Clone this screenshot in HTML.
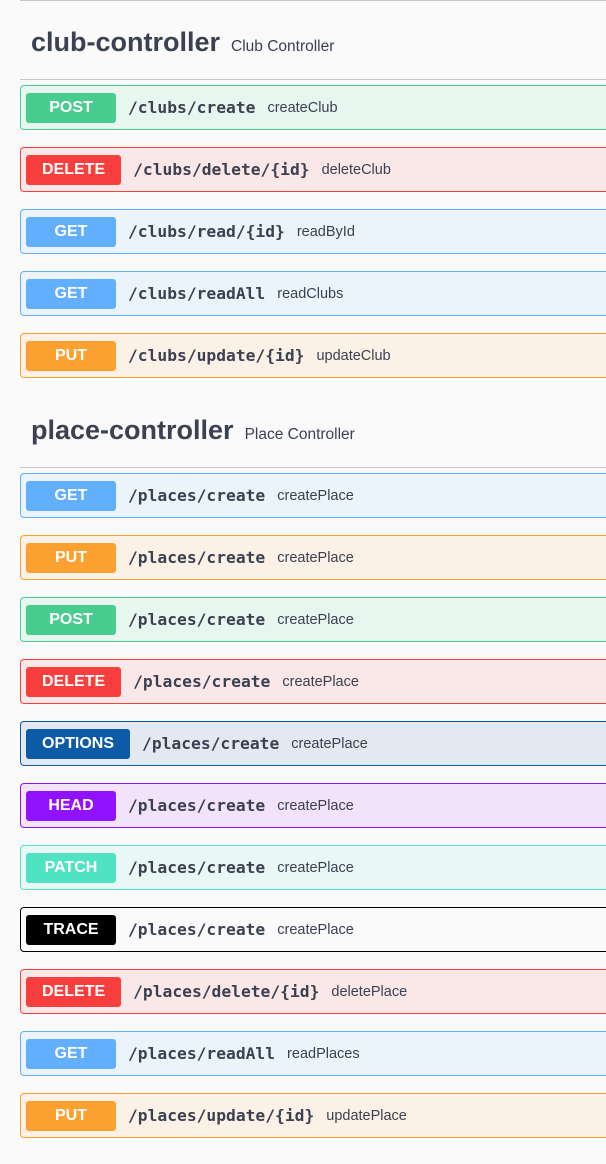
<!DOCTYPE html>
<html><head><meta charset="utf-8"><style>
*{box-sizing:border-box;margin:0;padding:0}
body{width:606px;height:1164px;background:#fafafa;font-family:"Liberation Sans",Arial,sans-serif;color:#3b4151;overflow:hidden;position:relative}
.line{position:absolute;left:20px;right:0;height:1px;background:#c8c8cc}
.h{position:absolute;left:31px;display:flex;align-items:baseline}
.h b{font-size:27px;font-weight:bold;color:#3b4151}
.h span{font-size:15.5px;margin-left:11px;color:#3b4151}
.op{position:absolute;left:20px;width:600px;height:45px;border:1px solid;border-radius:4px;display:flex;align-items:center;padding-left:5px}
.m{height:30px;min-width:90px;padding:0 14px;border-radius:3px;color:#fff;font-weight:bold;font-size:16px;display:flex;align-items:center;justify-content:center}
.m.w{padding:0 16px}
.p{font-family:"DejaVu Sans Mono","Liberation Mono",monospace;font-weight:bold;font-size:16.3px;margin-left:12px;color:#3b4151}
.s{font-size:14.5px;margin-left:12px;color:#3b4151}
.post{border-color:#49cc90;background:#e8f6f0}.post .m{background:#49cc90}
.del{border-color:#f93e3e;background:#fae7e7}.del .m{background:#f93e3e}
.get{border-color:#61affe;background:#ebf3fb}.get .m{background:#61affe}
.put{border-color:#fca130;background:#fbf1e6}.put .m{background:#fca130}
.opt{border-color:#0d5aa7;background:#e3e9f1}.opt .m{background:#0d5aa7}
.head{border-color:#9012fe;background:#f2e3fb}.head .m{background:#9012fe}
.patch{border-color:#50e3c2;background:#e9f8f4}.patch .m{background:#50e3c2}
.trace{border-color:#000;background:#fafafa}.trace .m{background:#000}
</style></head><body>
<div class="line" style="top:0"></div>
<div class="h" style="top:27px"><b>club-controller</b><span>Club Controller</span></div>
<div class="line" style="top:79px"></div>
<div class="op post" style="top:85px"><div class="m">POST</div><span class="p">/clubs/create</span><span class="s">createClub</span></div>
<div class="op del" style="top:147px"><div class="m w">DELETE</div><span class="p">/clubs/delete/{id}</span><span class="s">deleteClub</span></div>
<div class="op get" style="top:209px"><div class="m">GET</div><span class="p">/clubs/read/{id}</span><span class="s">readById</span></div>
<div class="op get" style="top:271px"><div class="m">GET</div><span class="p">/clubs/readAll</span><span class="s">readClubs</span></div>
<div class="op put" style="top:333px"><div class="m">PUT</div><span class="p">/clubs/update/{id}</span><span class="s">updateClub</span></div>
<div class="h" style="top:415px"><b>place-controller</b><span>Place Controller</span></div>
<div class="line" style="top:467px"></div>
<div class="op get" style="top:473px"><div class="m">GET</div><span class="p">/places/create</span><span class="s">createPlace</span></div>
<div class="op put" style="top:535px"><div class="m">PUT</div><span class="p">/places/create</span><span class="s">createPlace</span></div>
<div class="op post" style="top:597px"><div class="m">POST</div><span class="p">/places/create</span><span class="s">createPlace</span></div>
<div class="op del" style="top:659px"><div class="m w">DELETE</div><span class="p">/places/create</span><span class="s">createPlace</span></div>
<div class="op opt" style="top:721px"><div class="m w">OPTIONS</div><span class="p">/places/create</span><span class="s">createPlace</span></div>
<div class="op head" style="top:783px"><div class="m">HEAD</div><span class="p">/places/create</span><span class="s">createPlace</span></div>
<div class="op patch" style="top:845px"><div class="m">PATCH</div><span class="p">/places/create</span><span class="s">createPlace</span></div>
<div class="op trace" style="top:907px"><div class="m">TRACE</div><span class="p">/places/create</span><span class="s">createPlace</span></div>
<div class="op del" style="top:969px"><div class="m w">DELETE</div><span class="p">/places/delete/{id}</span><span class="s">deletePlace</span></div>
<div class="op get" style="top:1031px"><div class="m">GET</div><span class="p">/places/readAll</span><span class="s">readPlaces</span></div>
<div class="op put" style="top:1093px"><div class="m">PUT</div><span class="p">/places/update/{id}</span><span class="s">updatePlace</span></div>
</body></html>
